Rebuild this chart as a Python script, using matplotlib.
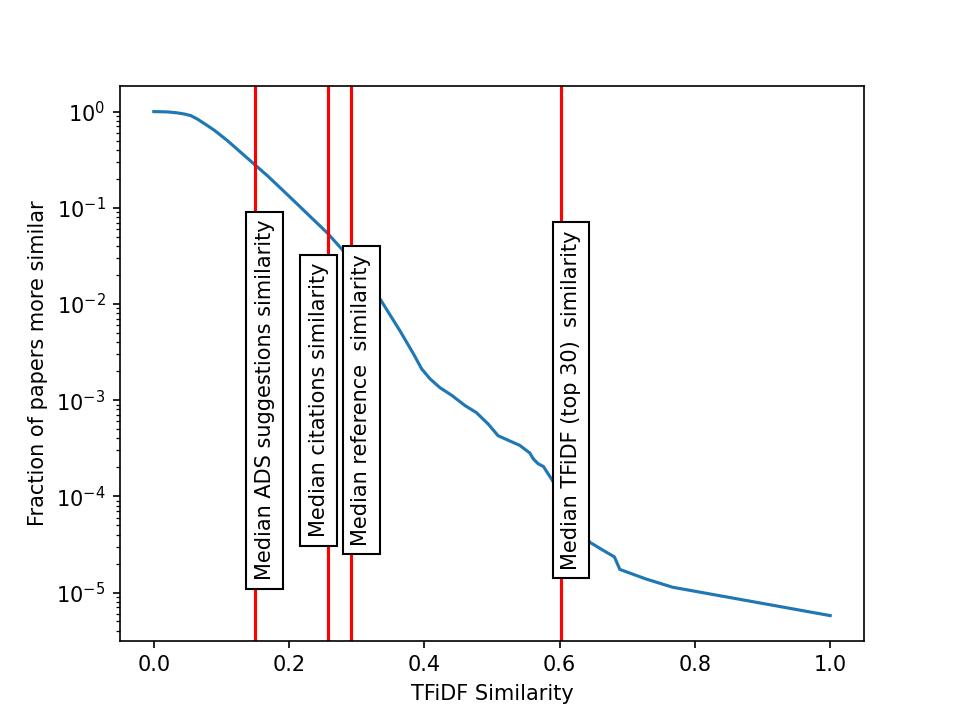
import matplotlib
matplotlib.use("Agg")
import matplotlib.pyplot as plt

# Curve: TFiDF similarity vs fraction of papers more similar (log10 values)
sim = [0.0, 0.02, 0.035, 0.045, 0.0546, 0.065, 0.0792, 0.09, 0.1087, 0.148, 0.1677,
       0.197, 0.256, 0.278, 0.307, 0.336, 0.364, 0.384, 0.396, 0.4086, 0.423,
       0.4405, 0.460, 0.477, 0.4946, 0.509, 0.5217, 0.541, 0.556, 0.561, 0.568,
       0.576, 0.588, 0.6445, 0.664, 0.681, 0.689, 0.728, 0.767, 1.0]
log_frac = [0.0, -0.003, -0.0135, -0.025, -0.0416, -0.08, -0.1455, -0.197, -0.301, -0.544, -0.665,
            -0.86, -1.258, -1.43, -1.69, -1.965, -2.28, -2.52, -2.675, -2.78, -2.87,
            -2.95, -3.056, -3.13, -3.25, -3.37, -3.41, -3.47, -3.55, -3.61, -3.66,
            -3.69, -3.82, -4.477, -4.56, -4.63, -4.76, -4.86, -4.945, -5.24]
frac = [10 ** v for v in log_frac]

medians = [0.149, 0.258, 0.292, 0.602]
label_x = [0.149, 0.229, 0.292, 0.602]
labels = ["Median ADS suggestions similarity",
          "Median citations similarity",
          "Median reference  similarity",
          "Median TFiDF (top 30)  similarity"]

fig, ax = plt.subplots(figsize=(6.4, 4.8), dpi=150)
ax.plot(sim, frac)
ax.set_yscale("log")
for m, lx, lab in zip(medians, label_x, labels):
    ax.axvline(m, color="r")
    ax.text(lx, 1e-3, lab, rotation=90, va="center",
            bbox=dict(facecolor="white", edgecolor="black"))
ax.set_xlabel("TFiDF Similarity")
ax.set_ylabel("Fraction of papers more similar")
fig.savefig("out.png", dpi=150)
